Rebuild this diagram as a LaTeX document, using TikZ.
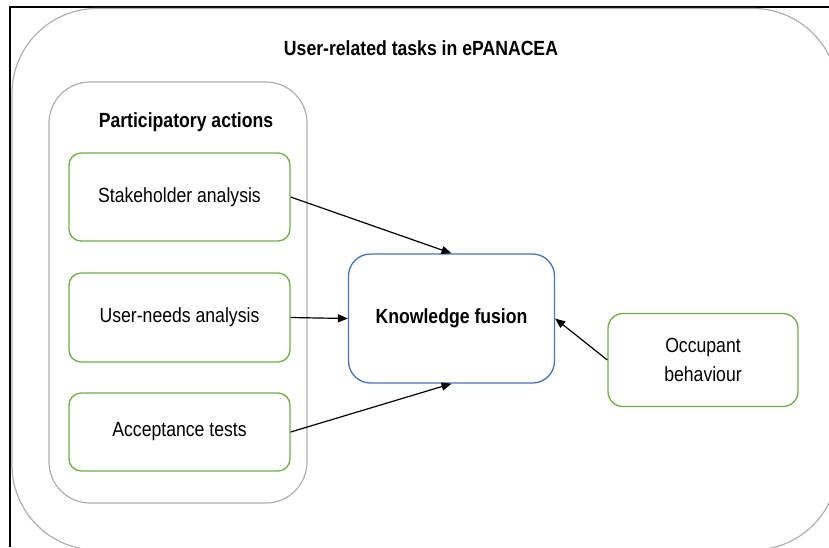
\documentclass[tikz,border=0pt]{standalone}
\usepackage{fontspec}
\setmainfont[FakeStretch=0.86]{Liberation Sans}
\usetikzlibrary{arrows.meta}
\definecolor{boxgreen}{HTML}{70AD47}
\definecolor{boxblue}{HTML}{4472C4}
\definecolor{boxgray}{HTML}{AFAFAF}
\tikzset{
  txt/.style={font=\fontsize{20.5}{24}\selectfont, align=center, inner sep=0pt},
  greenbox/.style={draw=boxgreen, line width=1.3pt, rounded corners=12pt, fill=white, txt},
  bluebox/.style={draw=boxblue, line width=1.3pt, rounded corners=22pt, fill=white, txt},
  graybox/.style={draw=boxgray, line width=1.2pt},
  conn/.style={draw=black, line width=1.2pt, -{Triangle[length=10pt,width=8pt]}}
}
\begin{document}
\begin{tikzpicture}[x=1pt,y=-1pt]
\useasboundingbox (0,0) rectangle (829,547);
% frame
\draw[line width=1.6pt] (10,547) -- (10,7) -- (829,7);
% outer gray box
\begin{scope}
\clip (10.8,7.8) rectangle (829,547);
\draw[graybox, rounded corners=85pt] (12,8.5) rectangle (838,550);
\end{scope}
\node[txt, font=\fontsize{20.5}{24}\selectfont\bfseries] (title) at (421,48) {User-related tasks in ePANACEA};
% participatory box
\draw[graybox, rounded corners=41pt] (49,82) rectangle (307,503);
\node[txt, font=\fontsize{20.5}{24}\selectfont\bfseries] (pa) at (186,122) {Participatory actions};
% green boxes
\node[greenbox, minimum width=221pt, minimum height=88pt] (sh) at (179.5,197) {\raisebox{-3pt}{Stakeholder analysis}};
\node[greenbox, minimum width=221pt, minimum height=89pt] (un) at (179.5,317.5) {\raisebox{-3pt}{User-needs analysis}};
\node[greenbox, minimum width=221pt, minimum height=78pt] (at) at (179.5,432) {\raisebox{-3pt}{Acceptance tests}};
% knowledge fusion
\node[bluebox, minimum width=206pt, minimum height=129pt, font=\fontsize{20.5}{24}\selectfont\bfseries] (kf) at (451.5,318.5) {\raisebox{-3pt}{Knowledge fusion}};
% occupant
\node[greenbox, rounded corners=15pt, minimum width=190pt, minimum height=93pt] (ob) at (703,360) {Occupant\\[5pt]behaviour};
% connectors
\draw[conn] (sh.east) -- (kf.north);
\draw[conn] (un.east) -- (kf.west);
\draw[conn] (at.east) -- (kf.south);
\draw[conn] (ob.west) -- (kf.east);
\end{tikzpicture}
\end{document}
